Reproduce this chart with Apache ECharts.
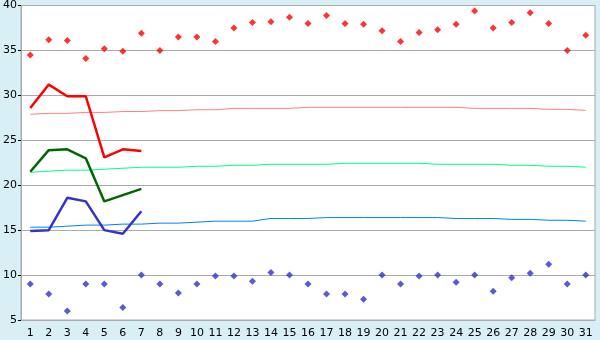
<!DOCTYPE html>
<html>
<head>
<meta charset="utf-8">
<script src="https://cdn.jsdelivr.net/npm/echarts@6/dist/echarts.min.js"></script>
<style>
html,body{margin:0;padding:0;background:#d9eff6;}
#chart{width:600px;height:340px;}
</style>
</head>
<body>
<div id="chart"></div>
<script>
var days = [];
for (var i = 1; i <= 31; i++) days.push(String(i));
var yTicks = [5, 10, 15, 20, 25, 30, 35, 40];

var maxTemps = [34.5,36.2,36.1,34.1,35.2,34.9,36.9,35.0,36.5,36.5,36.0,37.5,38.1,38.2,38.7,38.0,38.9,38.0,37.9,37.2,36.0,37.0,37.3,37.9,39.4,37.5,38.1,39.2,38.0,35.0,36.7];
var minTemps = [9.0,7.9,6.0,9.0,9.0,6.4,10.0,9.0,8.0,9.0,9.9,9.9,9.3,10.3,10.0,9.0,7.9,7.9,7.3,10.0,9.0,9.9,10.0,9.2,10.0,8.2,9.7,10.2,11.2,9.0,10.0];

var obsMax = [28.6,31.2,29.9,29.9,23.1,24.0,23.8];
var obsMean = [21.5,23.9,24.0,23.0,18.2,18.9,19.6];
var obsMin = [14.9,15.0,18.6,18.2,15.0,14.6,17.1];

var normMax = [27.9,28.0,28.0,28.1,28.1,28.2,28.2,28.3,28.3,28.4,28.4,28.55,28.55,28.55,28.55,28.67,28.67,28.67,28.67,28.67,28.67,28.67,28.67,28.67,28.55,28.55,28.55,28.55,28.44,28.44,28.33];
var normMean = [21.44,21.56,21.67,21.67,21.78,21.89,22.0,22.0,22.0,22.11,22.11,22.22,22.22,22.33,22.33,22.33,22.33,22.44,22.44,22.44,22.44,22.44,22.33,22.33,22.33,22.33,22.22,22.22,22.11,22.11,22.0];
var normMin = [15.33,15.33,15.44,15.56,15.56,15.67,15.67,15.78,15.78,15.89,16.0,16.0,16.0,16.3,16.3,16.3,16.4,16.4,16.4,16.4,16.4,16.4,16.4,16.3,16.3,16.3,16.2,16.2,16.1,16.1,16.0];

var chart = echarts.init(document.getElementById('chart'), null, {renderer: 'canvas'});
var font = 'DejaVu Sans';
chart.setOption({
  backgroundColor: '#d9eff6',
  animation: false,
  grid: {left: 21, right: 5, top: 5, bottom: 20, show: true, backgroundColor: '#ffffff', borderColor: '#aaaaaa', borderWidth: 1},
  xAxis: {
    type: 'category', data: days, boundaryGap: true,
    axisLine: {lineStyle: {color: '#aaaaaa'}},
    axisTick: {alignWithLabel: true, interval: 0, length: 6, lineStyle: {color: '#000000'}},
    axisLabel: {interval: 0, margin: 8, color: '#000000', fontFamily: font, fontSize: 11}
  },
  yAxis: {
    type: 'value', min: yTicks[0], max: yTicks[yTicks.length - 1], interval: 5,
    axisLine: {show: true, lineStyle: {color: '#aaaaaa'}},
    axisTick: {show: true, length: 3, lineStyle: {color: '#000000'}},
    axisLabel: {margin: 4, color: '#000000', fontFamily: font, fontSize: 11},
    splitLine: {lineStyle: {color: '#aaaaaa'}}
  },
  series: [
    {type: 'line', data: normMax, symbol: 'none', lineStyle: {color: '#ff8080', width: 1}, z: 1},
    {type: 'line', data: normMean, symbol: 'none', lineStyle: {color: '#00ff80', width: 1}, z: 1},
    {type: 'line', data: normMin, symbol: 'none', lineStyle: {color: '#0080ff', width: 1}, z: 1},
    {type: 'line', data: obsMax, symbol: 'none', lineStyle: {color: '#ff0000', width: 2.5}, z: 2},
    {type: 'line', data: obsMean, symbol: 'none', lineStyle: {color: '#006600', width: 2.5}, z: 2},
    {type: 'line', data: obsMin, symbol: 'none', lineStyle: {color: '#3333cc', width: 2.5}, z: 2},
    {type: 'scatter', data: maxTemps, symbol: 'diamond', symbolSize: 7, itemStyle: {color: '#ff0000'}, z: 3},
    {type: 'scatter', data: minTemps, symbol: 'diamond', symbolSize: 7, itemStyle: {color: '#3030d0'}, z: 3}
  ]
});
</script>
</body>
</html>
